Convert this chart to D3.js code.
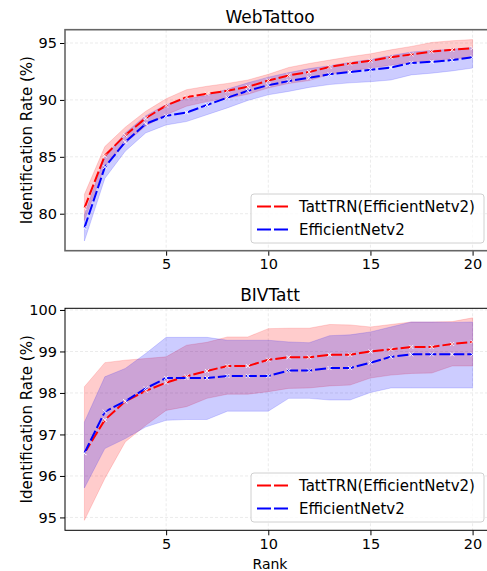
<!DOCTYPE html>
<html>
<head>
<meta charset="utf-8">
<script src="https://cdn.jsdelivr.net/npm/d3@7"></script>
<style>
  body { margin: 0; background: #fff; }
  text { font-family: "DejaVu Sans", sans-serif; fill: #000; }
</style>
</head>
<body>
<div id="chart"></div>
<script>
// ranks 1..20
var ranks = d3.range(1, 21);
var seriesNames = ["TattTRN(EfficientNetv2)", "EfficientNetv2"];
var seriesColors = ["#ff0000", "#0000ff"];

// WebTattoo
var webTrnMean = [80.5, 85.1, 86.9, 88.4, 89.5, 90.25, 90.55, 90.8, 91.15, 91.7, 92.15, 92.45, 92.9, 93.2, 93.45, 93.75, 94.0, 94.25, 94.4, 94.55];
var webTrnLow  = [79.4, 84.2, 86.2, 87.7, 88.7, 89.45, 89.85, 90.15, 90.5, 91.05, 91.45, 91.7, 92.25, 92.55, 92.8, 93.05, 93.3, 93.5, 93.6, 93.75];
var webTrnHigh = [81.7, 85.9, 87.6, 89.0, 90.1, 90.9, 91.2, 91.45, 91.75, 92.25, 92.85, 93.2, 93.5, 93.8, 94.05, 94.4, 94.7, 95.05, 95.2, 95.3];
var webEffMean = [78.75, 84.1, 86.3, 87.9, 88.6, 88.9, 89.55, 90.2, 90.8, 91.3, 91.65, 91.95, 92.25, 92.45, 92.65, 92.85, 93.25, 93.35, 93.5, 93.75];
var webEffLow  = [77.6, 83.1, 85.5, 87.1, 87.8, 88.1, 88.7, 89.3, 89.95, 90.45, 90.75, 91.1, 91.35, 91.5, 91.6, 91.75, 92.2, 92.35, 92.55, 92.8];
var webEffHigh = [79.9, 85.0, 87.1, 88.6, 89.6, 90.1, 90.4, 90.95, 91.5, 92.0, 92.4, 92.75, 93.0, 93.3, 93.55, 93.9, 94.2, 94.35, 94.45, 94.6];

// BIVTatt
var bivTrnMean = [96.55, 97.35, 97.8, 98.05, 98.25, 98.4, 98.53, 98.65, 98.65, 98.8, 98.86, 98.86, 98.92, 98.92, 99.0, 99.05, 99.11, 99.11, 99.18, 99.23];
var bivTrnLow  = [94.93, 95.94, 96.82, 97.22, 97.58, 97.67, 97.87, 97.97, 97.97, 98.03, 98.11, 98.12, 98.17, 98.19, 98.36, 98.43, 98.47, 98.48, 98.65, 98.65];
var bivTrnHigh = [98.15, 98.73, 98.79, 98.83, 98.87, 99.15, 99.22, 99.35, 99.35, 99.55, 99.56, 99.56, 99.65, 99.64, 99.59, 99.65, 99.71, 99.71, 99.72, 99.81];
var bivEffMean = [96.55, 97.55, 97.8, 98.11, 98.36, 98.36, 98.36, 98.41, 98.41, 98.41, 98.54, 98.54, 98.6, 98.6, 98.73, 98.87, 98.93, 98.93, 98.93, 98.93];
var bivEffLow  = [95.71, 96.66, 96.9, 97.18, 97.34, 97.36, 97.36, 97.56, 97.56, 97.56, 97.87, 97.87, 97.83, 97.83, 98.01, 98.12, 98.12, 98.12, 98.12, 98.12];
var bivEffHigh = [97.3, 98.39, 98.59, 98.95, 99.34, 99.34, 99.34, 99.27, 99.27, 99.27, 99.23, 99.21, 99.38, 99.4, 99.47, 99.59, 99.71, 99.71, 99.7, 99.71];

var xTicks = [5, 10, 15, 20];
var webYTicks = [80, 85, 90, 95];
var bivYTicks = [95, 96, 97, 98, 99, 100];

var W = 487, H = 571;
var svg = d3.select("#chart").append("svg")
  .attr("width", W)
  .attr("height", H);

function drawPanel(opts) {
  var x = d3.scaleLinear().domain([0.05, 20.95]).range([65, 492]);
  var y = d3.scaleLinear().domain(opts.yDomain).range([opts.bottom, opts.top]);
  var g = svg.append("g");

  // grid
  g.selectAll(".gx").data(xTicks).enter().append("line")
    .attr("x1", d => x(d)).attr("x2", d => x(d))
    .attr("y1", opts.top).attr("y2", opts.bottom)
    .attr("stroke", "#ebebeb").attr("stroke-width", 1)
    .attr("stroke-dasharray", "3,2");
  g.selectAll(".gy").data(opts.yTicks).enter().append("line")
    .attr("x1", 65).attr("x2", 492)
    .attr("y1", d => y(d)).attr("y2", d => y(d))
    .attr("stroke", "#ebebeb").attr("stroke-width", 1)
    .attr("stroke-dasharray", "3,2");

  var area = d3.area()
    .x((d, i) => x(ranks[i]))
    .y0(d => y(d[0]))
    .y1(d => y(d[1]));
  var line = d3.line()
    .x((d, i) => x(ranks[i]))
    .y(d => y(d));

  opts.series.forEach(function(s, k) {
    var band = s.low.map((v, i) => [v, s.high[i]]);
    g.append("path").datum(band)
      .attr("d", area)
      .attr("fill", seriesColors[k])
      .attr("fill-opacity", 0.2)
      .attr("stroke", seriesColors[k])
      .attr("stroke-opacity", 0.15);
  });
  opts.series.forEach(function(s, k) {
    g.append("path").datum(s.mean)
      .attr("d", line)
      .attr("fill", "none")
      .attr("stroke", seriesColors[k])
      .attr("stroke-width", 2)
      .attr("stroke-dasharray", "11,3");
    // white x markers
    g.selectAll(".m" + k).data(s.mean).enter().append("path")
      .attr("d", (d, i) => {
        var cx = x(ranks[i]), cy = y(d), r = 2;
        return "M" + (cx - r) + "," + (cy - r) + "L" + (cx + r) + "," + (cy + r) +
               "M" + (cx - r) + "," + (cy + r) + "L" + (cx + r) + "," + (cy - r);
      })
      .attr("stroke", "#fff")
      .attr("stroke-width", 0.9);
  });

  // axes
  var xAxis = g.append("g")
    .attr("transform", "translate(0," + opts.bottom + ")")
    .call(d3.axisBottom(x).tickValues(xTicks).tickSize(5).tickPadding(3));
  var yAxis = g.append("g")
    .attr("transform", "translate(65,0)")
    .call(d3.axisLeft(y).tickValues(opts.yTicks).tickFormat(d3.format("d"))
      .tickSize(5).tickPadding(3));
  [xAxis, yAxis].forEach(function(a) {
    a.select(".domain").remove();
    a.selectAll("text").attr("font-size", 14.5).attr("font-family", "DejaVu Sans");
    a.selectAll("line").attr("stroke", "#000");
  });

  // frame
  g.append("rect")
    .attr("x", 65).attr("y", opts.top)
    .attr("width", 492 - 65).attr("height", opts.bottom - opts.top)
    .attr("fill", "none")
    .attr("stroke", opts.frame).attr("stroke-width", opts.frameWidth);

  g.append("text")
    .attr("x", 270).attr("y", opts.top - 7)
    .attr("text-anchor", "middle")
    .attr("font-size", 17)
    .text(opts.title);

  g.append("text")
    .attr("transform", "translate(27," + ((opts.top + opts.bottom) / 2) + ") rotate(-90)")
    .attr("text-anchor", "middle")
    .attr("dy", "0.35em")
    .attr("font-size", 15)
    .text("Identification Rate (%)");

  // legend
  var lg = g.append("g").attr("transform", "translate(251," + opts.legendTop + ")");
  lg.append("rect")
    .attr("width", 233).attr("height", 49).attr("rx", 3)
    .attr("fill", "#fff").attr("fill-opacity", 0.8)
    .attr("stroke", "#d0d0d0");
  seriesNames.forEach(function(name, k) {
    var cy = 12.5 + k * 23;
    lg.append("line")
      .attr("x1", 6).attr("x2", 37).attr("y1", cy).attr("y2", cy)
      .attr("stroke", seriesColors[k]).attr("stroke-width", 2)
      .attr("stroke-dasharray", "14,3");
    lg.append("text")
      .attr("x", 48).attr("y", cy).attr("dy", "0.35em")
      .attr("font-size", 15)
      .text(name);
  });
  return x;
}

drawPanel({
  title: "WebTattoo", top: 29.7, bottom: 250.7, yDomain: [76.75, 96.17],
  yTicks: webYTicks, frame: "#666", frameWidth: 1.6, legendTop: 194,
  series: [
    {mean: webTrnMean, low: webTrnLow, high: webTrnHigh},
    {mean: webEffMean, low: webEffLow, high: webEffHigh}
  ]
});
drawPanel({
  title: "BIVTatt", top: 308.3, bottom: 530.3, yDomain: [94.69, 100.04],
  yTicks: bivYTicks, frame: "#000", frameWidth: 1, legendTop: 473,
  series: [
    {mean: bivTrnMean, low: bivTrnLow, high: bivTrnHigh},
    {mean: bivEffMean, low: bivEffLow, high: bivEffHigh}
  ]
});

svg.append("text")
  .attr("x", 270).attr("y", 569)
  .attr("text-anchor", "middle")
  .attr("font-size", 14)
  .text("Rank");
</script>
</body>
</html>
